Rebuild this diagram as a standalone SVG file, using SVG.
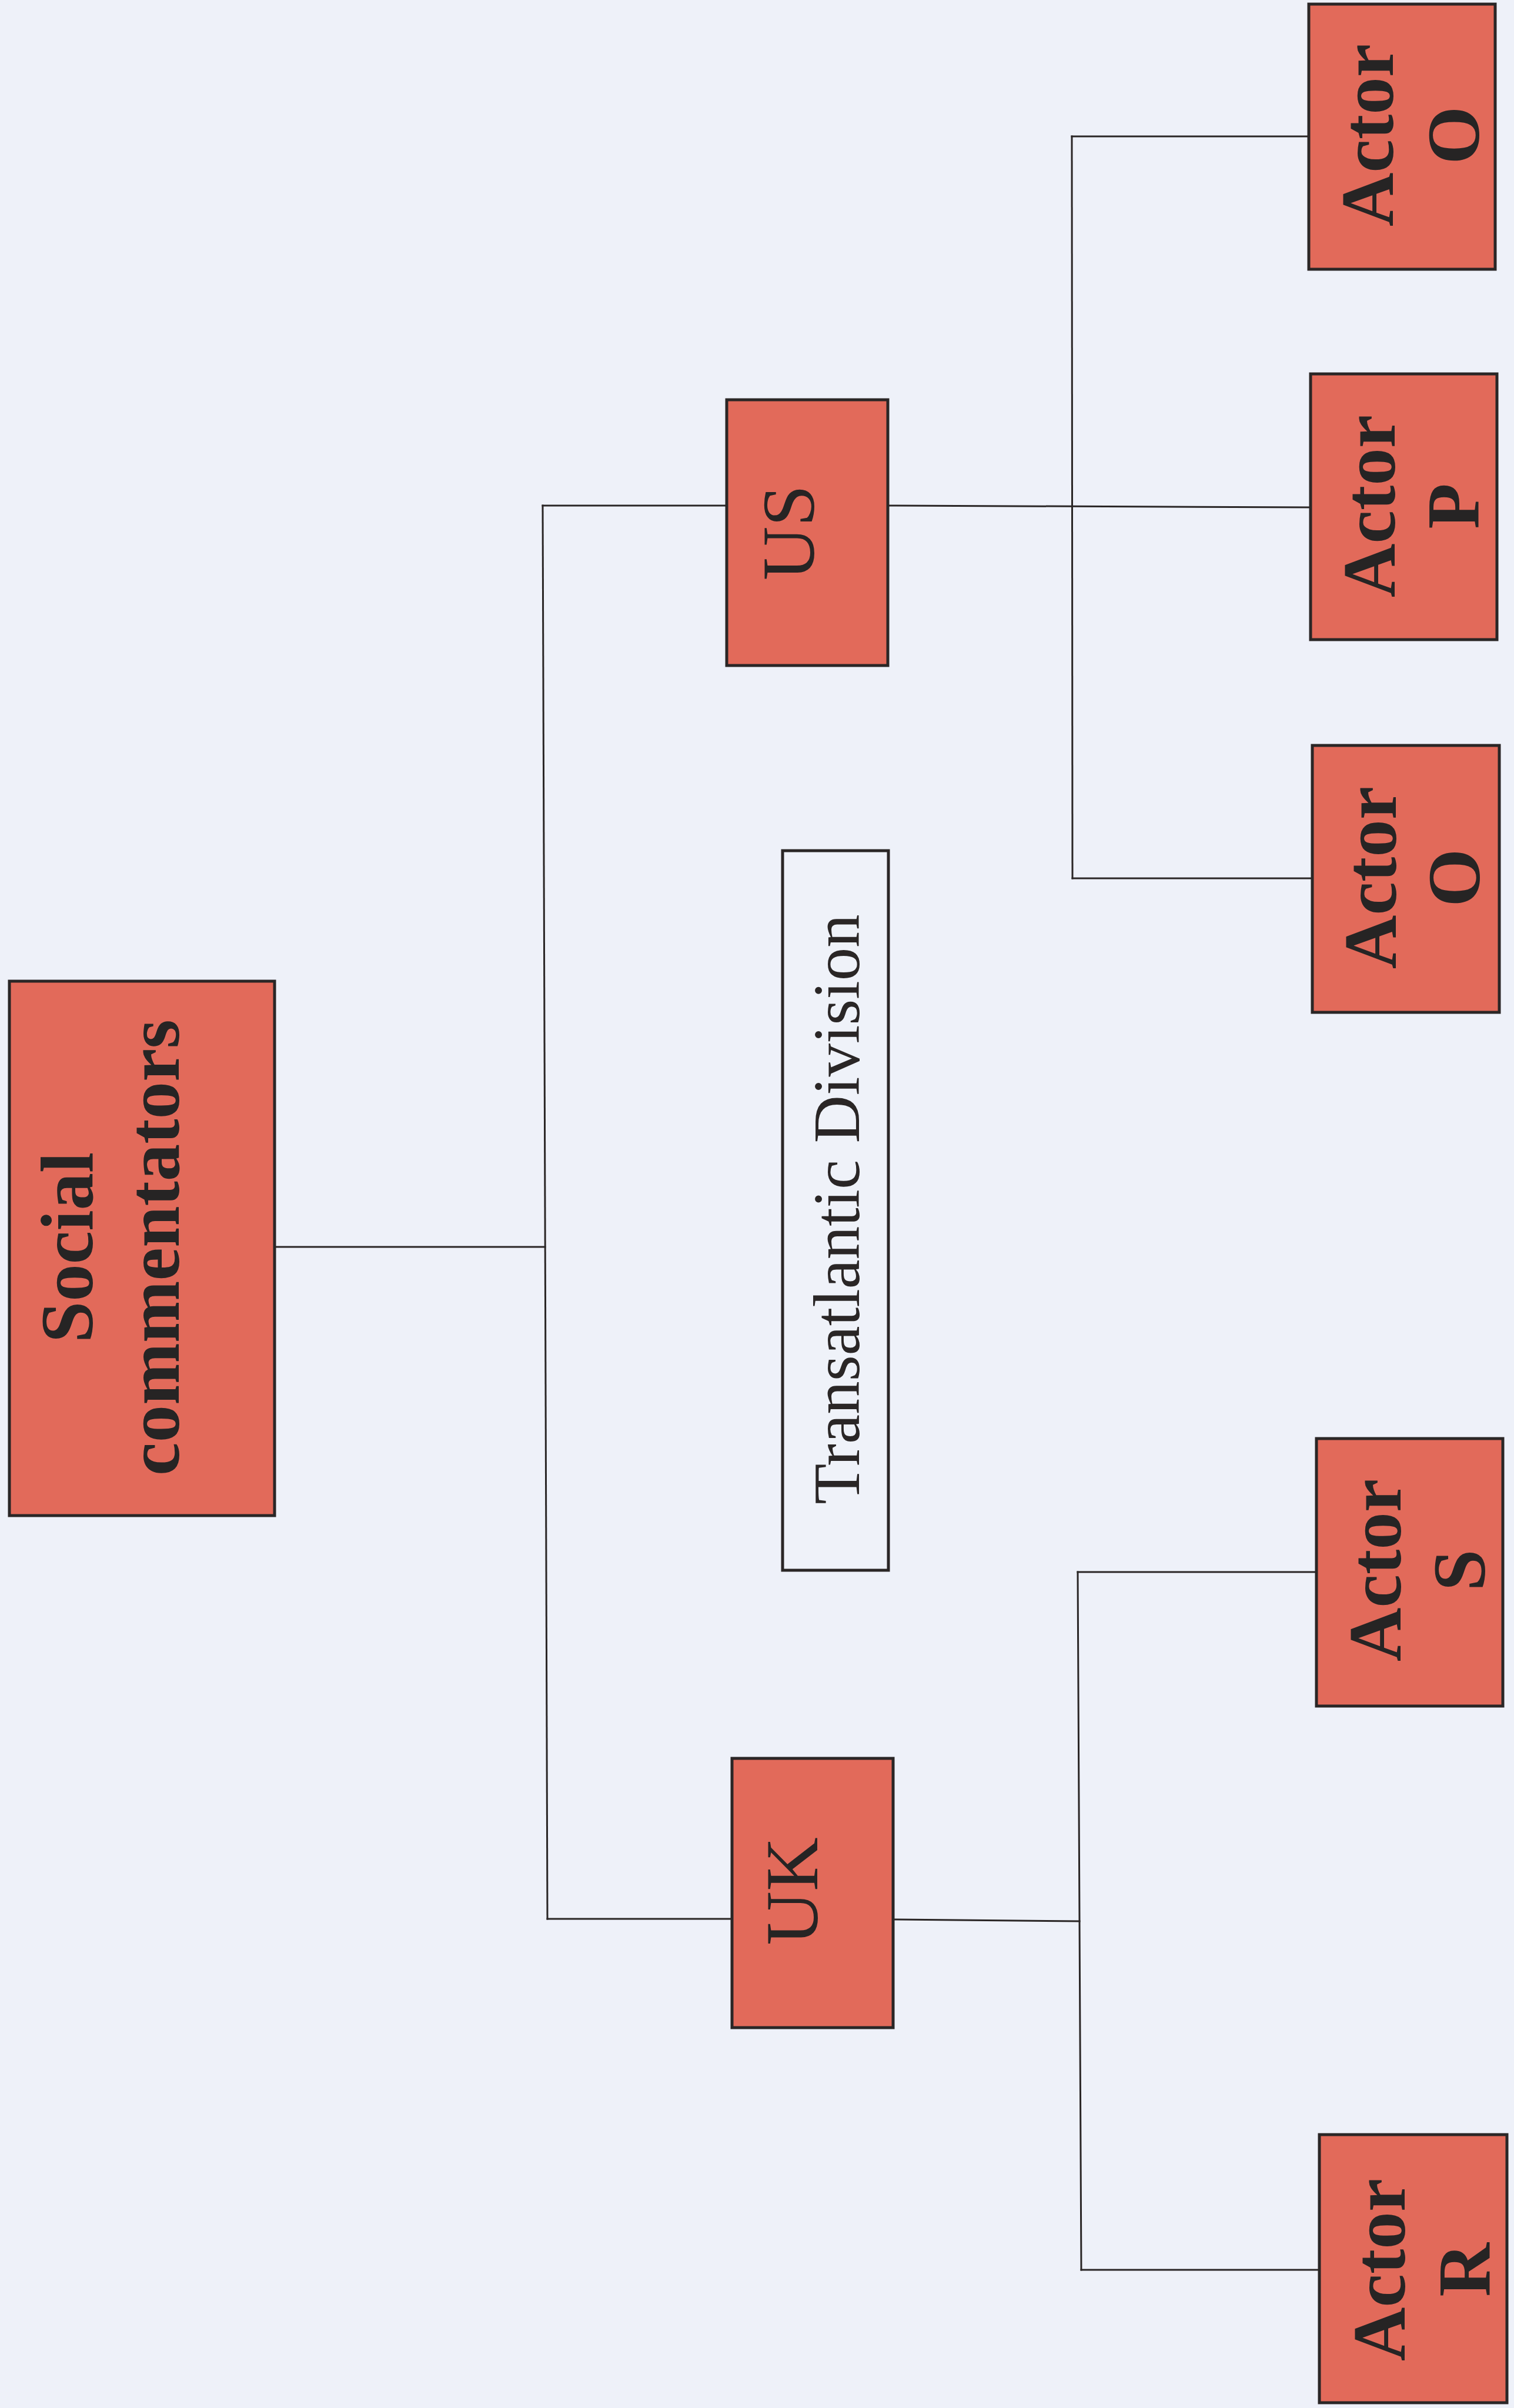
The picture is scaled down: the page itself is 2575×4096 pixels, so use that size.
<svg xmlns="http://www.w3.org/2000/svg" width="2575" height="4096" viewBox="0 0 2575 4096">
  <style>
    .node { fill: #e26a5a; stroke: #2a2626; stroke-width: 5; }
    .plain { fill: #eff2f9; stroke: #2a2626; stroke-width: 5; }
    .conn { fill: none; stroke: #2a2626; stroke-width: 3; stroke-linecap: square; }
    .bold { font-family: "Liberation Serif", "Times New Roman", serif; font-weight: bold; font-size: 127px; fill: #262424; }
    .reg { font-family: "Liberation Serif", "Times New Roman", serif; font-weight: normal; font-size: 127px; fill: #262424; }
    .div { font-family: "Liberation Serif", "Times New Roman", serif; font-weight: normal; font-size: 113px; fill: #2a2626; }
  </style>
  <rect x="0" y="0" width="2575" height="4096" fill="#eef1f9"/>

  <g id="connectors">
    <path class="conn" d="M467 2121 L927 2121"/>
    <path class="conn" d="M923 860 L931 3264"/>
    <path class="conn" d="M923 860 L1236 860"/>
    <path class="conn" d="M931 3264 L1245 3264"/>
    <path class="conn" d="M1510 860 L2229 863"/>
    <path class="conn" d="M1823 232 L1824 1494"/>
    <path class="conn" d="M1823 232 L2226 232"/>
    <path class="conn" d="M1824 1494 L2232 1494"/>
    <path class="conn" d="M1519 3265 L1836 3268"/>
    <path class="conn" d="M1833 2674 L1839 3861"/>
    <path class="conn" d="M1833 2674 L2239 2674"/>
    <path class="conn" d="M1839 3861 L2244 3861"/>
  </g>

  <g id="social-commentators">
    <rect class="node" x="16" y="1669" width="451" height="909"/>
    <text class="bold" text-anchor="middle" transform="translate(157 2122) rotate(-90)"><tspan x="0" y="0">Social</tspan><tspan x="0" y="147">commentators</tspan></text>
  </g>

  <g id="us">
    <rect class="node" x="1236" y="680" width="274" height="452"/>
    <text class="reg" text-anchor="middle" transform="translate(1384 906) rotate(-90)">US</text>
  </g>

  <g id="uk">
    <rect class="node" x="1245" y="2991" width="274" height="458"/>
    <text class="reg" text-anchor="middle" transform="translate(1390 3217) rotate(-90)">UK</text>
  </g>

  <g id="transatlantic-division">
    <rect class="plain" x="1331" y="1447" width="180" height="1224"/>
    <text class="div" text-anchor="middle" transform="translate(1461 2057) rotate(-90)">Transatlantic Division</text>
  </g>

  <g id="actor-o-top">
    <rect class="node" x="2226" y="7" width="317" height="451"/>
    <text class="bold" text-anchor="middle" transform="translate(2369 230) rotate(-90)"><tspan x="0" y="0">Actor</tspan><tspan x="0" y="146">O</tspan></text>
  </g>

  <g id="actor-p">
    <rect class="node" x="2229" y="636" width="317" height="452"/>
    <text class="bold" text-anchor="middle" transform="translate(2372 861) rotate(-90)"><tspan x="0" y="0">Actor</tspan><tspan x="0" y="143">P</tspan></text>
  </g>

  <g id="actor-o-lower">
    <rect class="node" x="2232" y="1268" width="318" height="454"/>
    <text class="bold" text-anchor="middle" transform="translate(2374 1493) rotate(-90)"><tspan x="0" y="0">Actor</tspan><tspan x="0" y="142">O</tspan></text>
  </g>

  <g id="actor-s">
    <rect class="node" x="2239" y="2447" width="317" height="455"/>
    <text class="bold" text-anchor="middle" transform="translate(2382 2671) rotate(-90)"><tspan x="0" y="0">Actor</tspan><tspan x="0" y="143">S</tspan></text>
  </g>

  <g id="actor-r">
    <rect class="node" x="2244" y="3631" width="319" height="456"/>
    <text class="bold" text-anchor="middle" transform="translate(2389 3861) rotate(-90)"><tspan x="0" y="0">Actor</tspan><tspan x="0" y="144">R</tspan></text>
  </g>
</svg>
